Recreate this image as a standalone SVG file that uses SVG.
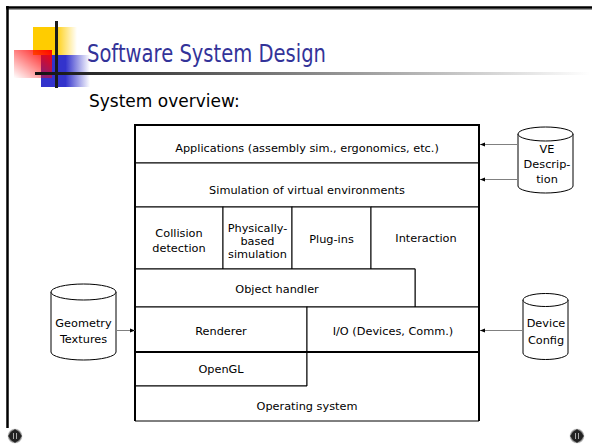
<svg xmlns="http://www.w3.org/2000/svg" width="592" height="447" viewBox="0 0 592 447">
<defs>
<style>
.cell{fill:#fff;stroke:#000;stroke-width:1}
.lbl{font-family:"DejaVu Sans","Verdana",sans-serif;font-size:11.3px;fill:#000;text-anchor:middle}
.cyl{fill:#fff;stroke:#000;stroke-width:1}
.conn{stroke:#808080;stroke-width:1;fill:none;marker-end:url(#ah)}
</style>
<marker id="ah" markerWidth="6" markerHeight="6" refX="5" refY="3" orient="auto" markerUnits="userSpaceOnUse">
<path d="M0,1 L5,3 L0,5 Z" fill="#000"/>
</marker>
<linearGradient id="gy" x1="0" y1="0" x2="1" y2="0">
<stop offset="0.5" stop-color="#FFCC00"/><stop offset="1" stop-color="#FFCC00" stop-opacity="0"/>
</linearGradient>
<linearGradient id="gb" x1="0" y1="0" x2="1" y2="0">
<stop offset="0.5" stop-color="#3333CC"/><stop offset="1" stop-color="#3333CC" stop-opacity="0"/>
</linearGradient>
<linearGradient id="gr" x1="1" y1="0" x2="0" y2="1">
<stop offset="0" stop-color="#FF0000"/><stop offset="1" stop-color="#FF0000" stop-opacity="0"/>
</linearGradient>
<linearGradient id="gl" x1="0" y1="0" x2="1" y2="0">
<stop offset="0" stop-color="#111"/><stop offset="0.5" stop-color="#888"/><stop offset="1" stop-color="#888" stop-opacity="0"/>
</linearGradient>
<radialGradient id="gi" cx="0.5" cy="0.5" r="0.5">
<stop offset="0" stop-color="#555"/><stop offset="0.7" stop-color="#222"/><stop offset="1" stop-color="#999" stop-opacity="0.3"/>
</radialGradient>
</defs>
<rect width="592" height="447" fill="#fff"/>
<!-- slide frame -->
<g id="frame">
<line x1="6" y1="7.5" x2="592" y2="7.5" stroke="#000" stroke-width="2.5"/>
<line x1="6" y1="9.5" x2="592" y2="9.5" stroke="#999" stroke-width="1"/>
<line x1="7.5" y1="6" x2="7.5" y2="428" stroke="#000" stroke-width="2.5"/>
</g>
<!-- title decoration -->
<g id="title-decor">
<rect x="33" y="27" width="44" height="28" fill="url(#gy)"/>
<rect x="41" y="55" width="49" height="32" fill="url(#gb)"/>
<rect x="14" y="50" width="38" height="28" fill="url(#gr)"/>
<rect x="35" y="72" width="555" height="3" fill="url(#gl)"/>
<rect x="55" y="21" width="3" height="67" fill="#1a1a1a"/>
</g>
<g id="title">
<text x="87" y="62" font-family="DejaVu Sans, Verdana, sans-serif" font-size="24" fill="#333399" textLength="239" lengthAdjust="spacingAndGlyphs">Software System Design</text>
</g>
<g id="subtitle">
<text x="89" y="107" font-family="DejaVu Sans, Verdana, sans-serif" font-size="17" fill="#000">System overview:</text>
</g>
<!-- stack -->
<g id="applications"><rect class="cell" x="135" y="125" width="344" height="38"/><text class="lbl" x="307" y="152">Applications (assembly sim., ergonomics, etc.)</text></g>
<g id="simulation"><rect class="cell" x="135" y="163" width="344" height="44"/><text class="lbl" x="307" y="194">Simulation of virtual environments</text></g>
<g id="collision"><rect class="cell" x="135" y="207" width="88" height="62"/><text class="lbl" x="179" y="237">Collision</text><text class="lbl" x="179" y="252">detection</text></g>
<g id="physics"><rect class="cell" x="223" y="207" width="69" height="62"/><text class="lbl" x="257.5" y="232">Physically-</text><text class="lbl" x="257.5" y="245">based</text><text class="lbl" x="257.5" y="258">simulation</text></g>
<g id="plugins"><rect class="cell" x="292" y="207" width="79" height="62"/><text class="lbl" x="331.5" y="243">Plug-ins</text></g>
<g id="interaction"><path class="cell" d="M371,207 H479 V307 H415 V269 H371 Z"/><text class="lbl" x="426" y="242">Interaction</text></g>
<g id="object-handler"><rect class="cell" x="135" y="269" width="280" height="38"/><text class="lbl" x="277" y="293">Object handler</text></g>
<g id="renderer"><rect class="cell" x="135" y="307" width="172" height="45"/><text class="lbl" x="221" y="335">Renderer</text></g>
<g id="io"><rect class="cell" x="307" y="307" width="172" height="45"/><text class="lbl" x="393" y="335">I/O (Devices, Comm.)</text></g>
<g id="opengl"><rect class="cell" x="135" y="352" width="172" height="34"/><text class="lbl" x="221" y="373">OpenGL</text></g>
<g id="os"><path class="cell" d="M135,386 H307 V352 H479 V421 H135 Z"/><text class="lbl" x="307" y="410">Operating system</text></g>
<g id="stack-border" fill="none" stroke="#000" stroke-width="2">
<path d="M135,421 V125 H479 V421"/>
<line x1="135" y1="352" x2="479" y2="352"/>
</g>
<!-- data stores -->
<g id="ve-description">
<path class="cyl" d="M518,134 A27.5,7 0 0 1 573,134 V186 A27.5,7 0 0 1 518,186 Z"/>
<path class="cyl" fill="none" d="M518,134 A27.5,7 0 0 0 573,134"/>
<text class="lbl" x="547" y="153">VE</text><text class="lbl" x="547" y="168">Descrip-</text><text class="lbl" x="547" y="183">tion</text>
</g>
<g id="geometry-textures">
<path class="cyl" d="M51,292 A32.5,8 0 0 1 116,292 V352 A32.5,8 0 0 1 51,352 Z"/>
<path class="cyl" fill="none" d="M51,292 A32.5,8 0 0 0 116,292"/>
<text class="lbl" x="83.5" y="327">Geometry</text><text class="lbl" x="83.5" y="343">Textures</text>
</g>
<g id="device-config">
<path class="cyl" d="M523,300 A22.5,6.5 0 0 1 568,300 V353 A22.5,6.5 0 0 1 523,353 Z"/>
<path class="cyl" fill="none" d="M523,300 A22.5,6.5 0 0 0 568,300"/>
<text class="lbl" x="546" y="327">Device</text><text class="lbl" x="546" y="344">Config</text>
</g>
<!-- connectors -->
<g id="connectors">
<line class="conn" x1="518" y1="144.5" x2="480" y2="144.5"/>
<line class="conn" x1="518" y1="179.5" x2="480" y2="179.5"/>
<line class="conn" x1="116" y1="330.5" x2="135" y2="330.5"/>
<line class="conn" x1="523" y1="330.5" x2="480" y2="330.5"/>
</g>
<!-- nav icons -->
<g id="nav-prev">
<circle cx="15" cy="436" r="7.5" fill="url(#gi)"/>
<path d="M15,429 L22,436 L15,443 L8,436 Z" fill="#222"/>
<path d="M13.5,433 V439 M16.5,433 V439" stroke="#aaa" stroke-width="1"/>
</g>
<g id="nav-next">
<circle cx="577" cy="436" r="7.5" fill="url(#gi)"/>
<path d="M577,429 L584,436 L577,443 L570,436 Z" fill="#222"/>
<path d="M575.5,433 V439 M578.5,433 V439" stroke="#aaa" stroke-width="1"/>
</g>
</svg>
